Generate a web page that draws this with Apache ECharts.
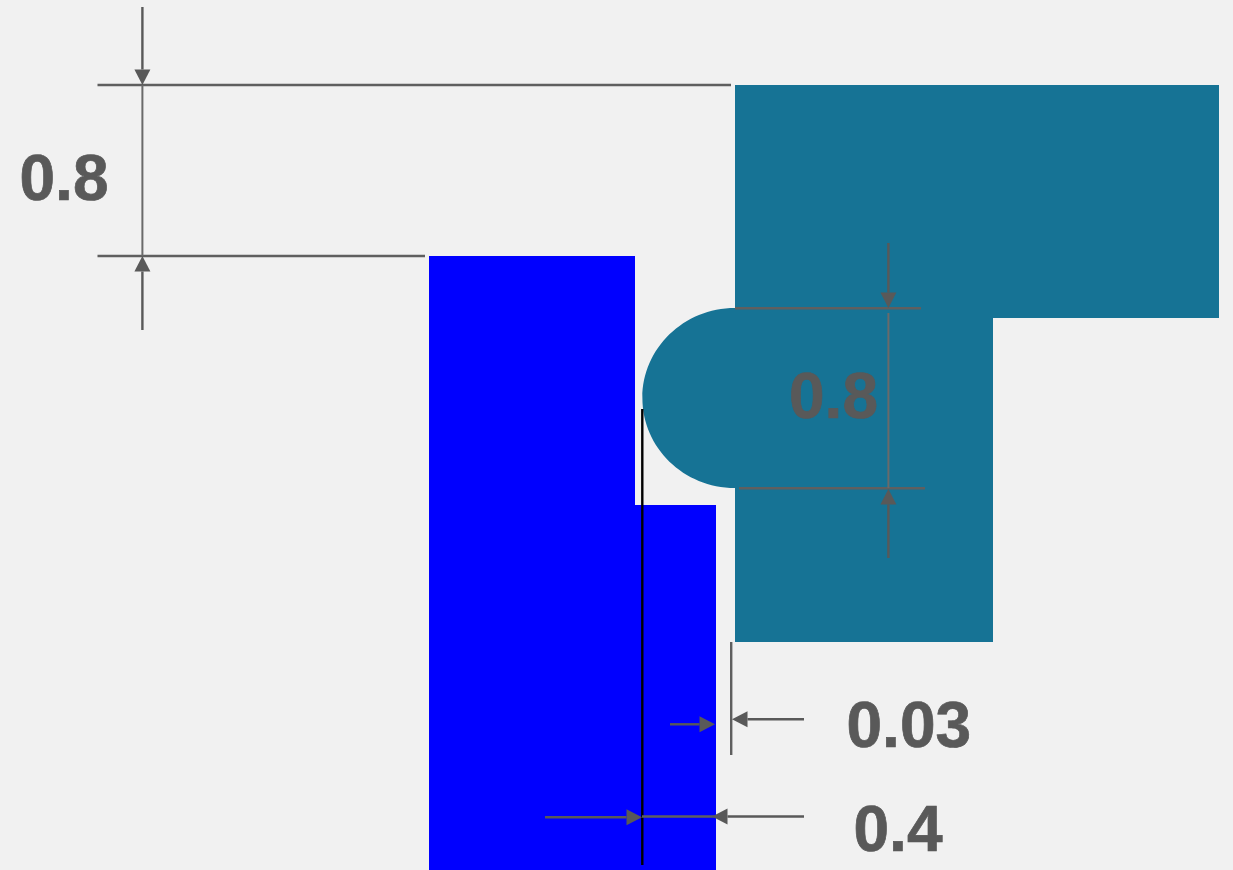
<!DOCTYPE html>
<html>
<head>
<meta charset="utf-8">
<style>html,body{margin:0;padding:0;background:#f1f1f1}#c{width:1233px;height:870px}</style>
<script src="https://cdn.jsdelivr.net/npm/echarts@6/dist/echarts.min.js"></script>
</head>
<body>
<div id="c"></div>
<script>
// Outlines, in the chart's coordinate system
var bluePart = [[429,256],[635,256],[635,505],[716,505],[716,870],[429,870]];
var tealPart = [[735,85],[1219,85],[1219,318],[993,318],[993,642],[735,642],[735,488]];
var tealNoseTop = [735,308];
var tealNoseTip = 642.4;
// Extension and dimension lines [x1,y1,x2,y2]
var heavyLines = [
  [97.5,85,731,85],[97.5,256,425,256],[735,308.3,921,308.3],[739,488.3,925,488.3],
  [731.2,642,731.2,755],[642,816.5,715,816.5]
];
var thinLines = [[142.4,85,142.4,256],[888.4,313,888.4,488]];
var blackLines = [[642.3,409,642.3,865]];
// Arrows [tailX,tailY,tipX,tipY]
var arrows = [
  [142.4,7,142.4,85],[142.4,330,142.4,256],[888.4,243,888.4,308],[888.4,558,888.4,489],
  [804,719.3,732,719.3],[670,724.3,715,724.3],[545,817.3,642,817.3],[804,816.5,712,816.5]
];
// Labels [x,baselineY,text]
var labels = [[19.5,200.5,'0.8'],[789,419,'0.8'],[846.5,748,'0.03'],[853.5,852,'0.4']];

var GRAY = '#595959';
function polyItem(fill, pts, nose) {
  return function (params, api) {
    var d = 'M', minX = Infinity, minY = Infinity, maxX = -Infinity, maxY = -Infinity;
    pts.forEach(function (p, i) {
      var c = api.coord(p);
      d += (i ? ' L' : '') + c[0] + ' ' + c[1];
      minX = Math.min(minX, c[0]); maxX = Math.max(maxX, c[0]);
      minY = Math.min(minY, c[1]); maxY = Math.max(maxY, c[1]);
    });
    if (nose) {
      var top = api.coord(nose.top), bot = api.coord(pts[pts.length - 1]), tip = api.coord([nose.tip, (nose.top[1] + pts[pts.length - 1][1]) / 2]);
      var k = 0.5523, rx = top[0] - tip[0], ry = (bot[1] - top[1]) / 2;
      d += ' C' + (bot[0] - k * rx) + ' ' + bot[1] + ' ' + tip[0] + ' ' + (tip[1] + k * ry) + ' ' + tip[0] + ' ' + tip[1];
      d += ' C' + tip[0] + ' ' + (tip[1] - k * ry) + ' ' + (top[0] - k * rx) + ' ' + top[1] + ' ' + top[0] + ' ' + top[1];
      minX = Math.min(minX, tip[0]);
    }
    d += ' Z';
    return { type: 'path', shape: { pathData: d, layout: 'cover', x: minX, y: minY, width: maxX - minX, height: maxY - minY }, style: { fill: fill } };
  };
}
function shapeSeries(fill, pts, nose) {
  return { type: 'custom', coordinateSystem: 'cartesian2d', silent: true, clip: false, data: [pts[0]], renderItem: polyItem(fill, pts, nose), encode: { x: 0, y: 1 } };
}
function lineSeries(rows, color, width) {
  return {
    type: 'custom', coordinateSystem: 'cartesian2d', silent: true, clip: false, data: rows,
    encode: { x: [0, 2], y: [1, 3] },
    renderItem: function (params, api) {
      var a = api.coord([api.value(0), api.value(1)]), b = api.coord([api.value(2), api.value(3)]);
      return { type: 'line', shape: { x1: a[0], y1: a[1], x2: b[0], y2: b[1] }, style: { stroke: color, lineWidth: width, fill: null } };
    }
  };
}
function arrowSeries(rows) {
  return {
    type: 'custom', coordinateSystem: 'cartesian2d', silent: true, clip: false, data: rows,
    encode: { x: [0, 2], y: [1, 3] },
    renderItem: function (params, api) {
      var a = api.coord([api.value(0), api.value(1)]), b = api.coord([api.value(2), api.value(3)]);
      var dx = b[0] - a[0], dy = b[1] - a[1], L = Math.sqrt(dx * dx + dy * dy), ux = dx / L, uy = dy / L;
      var len = 15.5, hw = 8, bx = b[0] - ux * len, by = b[1] - uy * len;
      return { type: 'group', children: [
        { type: 'line', shape: { x1: a[0], y1: a[1], x2: bx, y2: by }, style: { stroke: GRAY, lineWidth: 2.4, fill: null } },
        { type: 'polygon', shape: { points: [[b[0], b[1]], [bx - uy * hw, by + ux * hw], [bx + uy * hw, by - ux * hw]] }, style: { fill: GRAY } }
      ] };
    }
  };
}
var chart = echarts.init(document.getElementById('c'), null, { renderer: 'canvas' });
chart.setOption({
  animation: false,
  backgroundColor: '#f1f1f1',
  tooltip: { show: false },
  grid: { left: 0, right: 0, top: 0, bottom: 0 },
  xAxis: { type: 'value', min: 0, max: 1233, show: false },
  yAxis: { type: 'value', min: 0, max: 870, inverse: true, show: false },
  series: [
    shapeSeries('#0000ff', bluePart),
    shapeSeries('#167395', tealPart, { top: tealNoseTop, tip: tealNoseTip }),
    lineSeries(blackLines, '#000000', 2.4),
    lineSeries(heavyLines, '#5f5f5f', 2.4),
    lineSeries(thinLines, '#6a6a6a', 2),
    arrowSeries(arrows),
    {
      type: 'custom', coordinateSystem: 'cartesian2d', silent: true, clip: false, data: labels,
      encode: { x: 0, y: 1 },
      renderItem: function (params, api) {
        var p = api.coord([api.value(0), api.value(1)]);
        return { type: 'text', x: p[0], y: p[1] + 13.5, style: {
          text: labels[params.dataIndex][2], fill: GRAY, stroke: GRAY, lineWidth: 0.7,
          font: 'bold 64px "Liberation Sans", Arial, sans-serif',
          textAlign: 'left', verticalAlign: 'bottom'
        } };
      }
    }
  ]
});
</script>
</body>
</html>
